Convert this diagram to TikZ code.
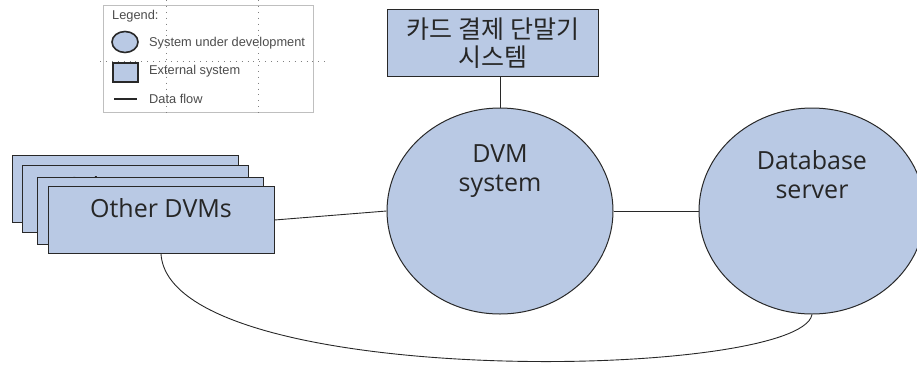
\documentclass[tikz,border=0pt]{standalone}
\usepackage{fontspec}
\setmainfont{Open Sans}
\newfontfamily\krfont{Noto Sans CJK KR}
\newfontfamily\legendfont{Liberation Sans}
\usetikzlibrary{shapes.geometric}
\definecolor{sysblue}{RGB}{185,201,228}
\definecolor{edgegray}{RGB}{40,40,40}
\begin{document}
\begin{tikzpicture}[x=1pt,y=-1pt,
    sys/.style={ellipse,draw=edgegray,fill=sysblue,line width=1pt,minimum width=226pt,minimum height=206pt,inner sep=0pt},
    ext/.style={rectangle,draw=edgegray,fill=sysblue,line width=1pt,minimum width=226pt,minimum height=67pt,inner sep=0pt},
    flow/.style={draw=edgegray,line width=0.9pt},
    big/.style={font=\fontsize{25}{29}\selectfont,text=black!85},
    leg/.style={font=\legendfont\fontsize{12.8}{14}\selectfont,text=black!70,anchor=west,inner sep=0pt}]
    \useasboundingbox (0,0) rectangle (917,367);
    %legend
        \draw[black!25,line width=0.8pt] (103,5) rectangle (313,112);
        \node[ellipse,draw=edgegray,fill=sysblue,line width=1.6pt,minimum width=26pt,minimum height=21pt,inner sep=0pt] (legsys) at (125,42) {};
        \node[rectangle,draw=edgegray,fill=sysblue,line width=1.6pt,minimum width=25pt,minimum height=19pt,inner sep=0pt] (legext) at (125.5,72.5) {};
        \draw[edgegray,line width=1.6pt] (114,99) -- (137,99);
        \node[leg] (legtitle) at (112,16) {Legend:};
        \node[leg] (legsystxt) at (149,43) {System under development};
        \node[leg] (legexttxt) at (149,71) {External system};
        \node[leg] (legflowtxt) at (149,99) {Data flow};
        \draw[black!50,line width=0.9pt,dash pattern=on 0.9pt off 5pt] (166,0) -- (166,113) (258,0) -- (258,113) (100,61) -- (325,61);
    %external systems
    \node[ext,align=center,minimum width=211pt,font=\krfont\fontsize{25}{28}\selectfont,text=black!85] (card) at (493,43) {카드 결제 단말기\\시스템};
    \foreach \cx/\cy [count=\i] in {125/188.5,135.5/198.5,150/210.5,161/220}
        \node[ext,label={[big,yshift=12pt]center:Other DVMs}] (odvm\i) at (\cx,\cy) {};
    %systems
    \node[sys,label={[big,align=center,yshift=40pt]center:DVM\\system}] (dvm) at (500,211) {};
    \node[sys,label={[big,align=center,yshift=36pt]center:Database\\server}] (db) at (812,211) {};
    %data flows
    \draw[flow] (odvm4.east) -- (dvm.west);
    \draw[flow] (dvm.east) -- (db.west);
    \draw[flow] (dvm.north) -- (dvm.north |- card.south);
    \draw[flow] (odvm4.south) .. controls +(9,137) and +(-12,66) .. (db.south);
\end{tikzpicture}
\end{document}
